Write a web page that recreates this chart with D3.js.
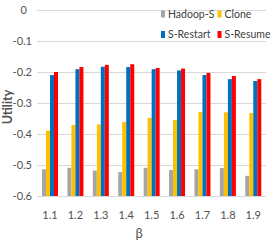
<!DOCTYPE html>
<html>
<head>
<meta charset="utf-8">
<script src="https://cdn.jsdelivr.net/npm/d3@7"></script>
<style>
  body { margin: 0; background: #fff; }
  text { font-family: Lato, "Open Sans", sans-serif; }
</style>
</head>
<body>
<div class="chart"></div>
<script>
// values
var betas = ["1.1", "1.2", "1.3", "1.4", "1.5", "1.6", "1.7", "1.8", "1.9"];
var series = ["Hadoop-S", "Clone", "S-Restart", "S-Resume"];
var hadoopS = [-0.514, -0.509, -0.518, -0.523, -0.509, -0.516, -0.514, -0.510, -0.535];
var clone = [-0.389, -0.371, -0.369, -0.361, -0.348, -0.355, -0.329, -0.330, -0.332];
var sRestart = [-0.210, -0.191, -0.183, -0.184, -0.191, -0.195, -0.210, -0.223, -0.229];
var sResume = [-0.200, -0.184, -0.177, -0.175, -0.187, -0.189, -0.203, -0.213, -0.223];
var yTicks = [0, -0.1, -0.2, -0.3, -0.4, -0.5, -0.6];
var colors = ["#a5a5a5", "#ffc000", "#0070c0", "#ff0000"];

var values = [hadoopS, clone, sRestart, sResume];

var width = 274, height = 249;
var svg = d3.select(".chart").append("svg")
    .attr("width", width)
    .attr("height", height);

var x0 = d3.scaleBand().domain(betas).range([37.3, 266]);
var barW = 4;
var x1 = d3.scaleBand().domain(series)
    .range([(x0.bandwidth() - 4 * barW) / 2, (x0.bandwidth() + 4 * barW) / 2]);
var y = d3.scaleLinear().domain([-0.6, 0]).range([196, 10]);

// gridlines
svg.append("g").selectAll("line")
    .data(yTicks)
    .enter().append("line")
    .attr("x1", 37).attr("x2", 266)
    .attr("y1", function (d) { return Math.round(y(d)) + 0.5; })
    .attr("y2", function (d) { return Math.round(y(d)) + 0.5; })
    .style("stroke", "#d9d9d9")
    .style("stroke-width", 1);

// y labels
svg.append("g").selectAll("text")
    .data(yTicks)
    .enter().append("text")
    .attr("x", function (d) { return d === 0 ? 27 : 32; })
    .attr("y", function (d) { return y(d); })
    .attr("dy", "0.35em")
    .attr("text-anchor", "end")
    .style("font-size", "11px")
    .style("fill", "#505050")
    .text(function (d) { return d3.format("")(d).replace("−", "-"); });

// bars
var groups = svg.append("g").selectAll("g")
    .data(betas)
    .enter().append("g")
    .attr("transform", function (d) { return "translate(" + x0(d) + ",0)"; });

groups.selectAll("rect")
    .data(function (d, i) {
        return series.map(function (s, j) { return { s: s, v: values[j][i], c: colors[j] }; });
    })
    .enter().append("rect")
    .attr("x", function (d) { return x1(d.s); })
    .attr("width", x1.bandwidth())
    .attr("y", function (d) { return y(d.v); })
    .attr("height", function (d) { return y(-0.6) - y(d.v); })
    .style("fill", function (d) { return d.c; });

// x labels
svg.append("g").selectAll("text")
    .data(betas)
    .enter().append("text")
    .attr("x", function (d) { return x0(d) + x0.bandwidth() / 2; })
    .attr("y", 219)
    .attr("text-anchor", "middle")
    .style("font-size", "11px")
    .style("fill", "#505050")
    .text(function (d) { return d; });

// axis titles
svg.append("text")
    .attr("x", 139).attr("y", 238)
    .attr("text-anchor", "middle")
    .style("font-size", "13px")
    .style("fill", "#505050")
    .text("β");

svg.append("text")
    .attr("transform", "translate(12,107) rotate(-90)")
    .attr("text-anchor", "middle")
    .style("font-size", "12.5px")
    .style("font-weight", "bold")
    .style("fill", "#505050")
    .text("Utility");

// legend
var legPos = [[161, 14], [217.5, 14], [161, 34.5], [217.5, 34.5]];
var leg = svg.append("g").selectAll("g")
    .data(series)
    .enter().append("g")
    .attr("transform", function (d, i) { return "translate(" + legPos[i][0] + "," + legPos[i][1] + ")"; });
leg.append("rect")
    .attr("x", 0).attr("y", -3.5)
    .attr("width", 4).attr("height", 7)
    .style("fill", function (d, i) { return colors[i]; });
leg.append("text")
    .attr("x", 7).attr("dy", "0.35em")
    .style("font-size", "10.5px")
    .style("fill", "#404040")
    .text(function (d) { return d; });
</script>
</body>
</html>
